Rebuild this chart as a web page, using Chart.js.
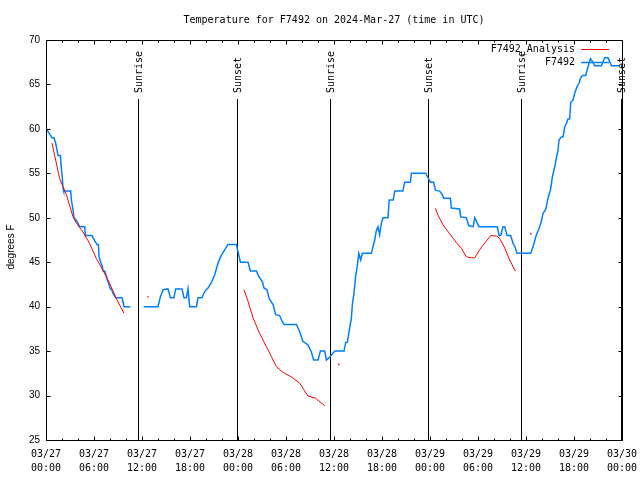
<!DOCTYPE html>
<html><head><meta charset="utf-8">
<script src="https://cdn.jsdelivr.net/npm/chart.js@4/dist/chart.umd.min.js"></script>
<style>html,body{margin:0;padding:0;background:#fff}#wrap{width:640px;height:480px;position:relative}</style>
</head><body><div id="wrap"><canvas id="c" width="640" height="480"></canvas></div>
<script>
const titleText = "Temperature for F7492 on 2024-Mar-27 (time in UTC)";
const yAxisLabel = "degrees F";
const xTickHours = [0, 6, 12, 18, 24, 30, 36, 42, 48, 54, 60, 66, 72];
const xTickDates = ["03/27","03/27","03/27","03/27","03/28","03/28","03/28","03/28","03/29","03/29","03/29","03/29","03/30"];
const xTickTimes = ["00:00","06:00","12:00","18:00","00:00","06:00","12:00","18:00","00:00","06:00","12:00","18:00","00:00"];
const yTickValues = [25, 30, 35, 40, 45, 50, 55, 60, 65, 70];
const sunriseHours = [11.5, 35.5, 59.4];
const sunsetHours = [23.87, 47.8, 71.84];
const seriesNames = ["F7492_Analysis", "F7492"];

// observed series F7492 (hours since 03/27 00:00 UTC, degrees F)
const obsHours = [0.05,0.75,1.0,1.21,1.5,1.8,1.92,2.05,2.13,2.21,3.09,3.17,3.38,3.5,3.8,4.21,4.84,4.92,5.75,6.09,6.38,6.55,6.63,6.84,7.05,7.13,7.34,7.55,7.67,7.88,8.05,8.17,8.38,8.71,9.5,9.63,9.75,10.55,
 11.4,
 12.21,14.0,14.3,14.63,15.25,15.55,16.0,16.2,17.0,17.25,17.55,17.75,17.96,18.8,19.0,19.5,19.84,20.25,20.67,21.09,21.5,21.92,22.34,22.75,23.8,24.0,24.3,25.25,25.55,26.3,26.6,27.05,27.25,27.63,27.9,28.4,28.7,29.2,29.55,29.75,31.3,31.7,32.1,32.75,33.17,33.46,34.0,34.3,34.84,35.05,35.46,36.1,37.25,37.46,37.67,37.88,38.17,38.3,38.5,38.7,38.9,39.1,39.34,39.55,40.67,40.88,41.09,41.3,41.5,41.7,41.92,42.13,42.75,42.9,43.4,43.6,44.6,44.84,45.55,45.67,47.46,47.75,48.05,48.46,48.67,49.2,49.55,49.7,50.55,50.67,51.7,51.84,52.55,52.84,53.4,53.59,53.8,54.13,56.42,56.63,56.84,57.13,57.34,57.63,58.09,58.38,58.59,58.88,60.6,61.0,61.3,61.63,61.92,62.13,62.46,62.75,63.05,63.3,63.59,63.8,64.0,64.13,64.42,64.63,64.84,65.05,65.25,65.46,65.59,65.88,66.09,66.38,66.63,66.8,67.05,67.46,67.63,67.75,68.05,68.3,68.59,69.42,69.71,69.84,70.25,70.46,70.67,71.7];
const obsTemps = [60,59,59,58.4,57,57,55.5,54.4,53.3,53,53,52,50.9,50,49.7,49,49,48,48,47.4,47,47,45.6,45,44.5,44,44,43.4,43,42.5,42,42,41.5,41,41,40.5,40,40,
 null,
 40,40,41.1,41.9,42,41,41,42,42,41,41,42,40,40,41,41,41.7,42.1,42.7,43.6,44.9,45.8,46.4,47,47,46.2,45,45,44,44,43.4,42.8,42.1,41.9,40.9,40.2,39.1,39,38.3,38,38,37.2,36.1,35.7,34.9,34,34,35,35,34,34.3,35,35,35.95,36,37.2,38.7,40.3,41.5,43.4,44.5,46,45.25,46,46,46.75,47.5,48.6,49,48.1,49.4,50,50,52,52,53,53,54,54,55,55,54.5,54,54,53.1,53,52.6,52.2,52.2,51.1,51,50.1,50,49.1,49,50,49.6,49,49,48,48,49,49,48,48,47.1,46.8,46,46,47.1,48.1,48.8,49.6,50.5,50.9,52.2,53.1,54.6,55.75,56.7,57.6,58.75,59.1,59.1,60.25,60.6,61.1,61.1,63,63.25,64,64.75,65.1,65.7,66,66,66.6,67,67.9,67.6,67.1,67.1,67.75,68,68,67.6,67.1,67.1];

// analysis series F7492_Analysis
const anaHours = [0.75,1.71,2.21,2.55,3.38,3.8,4.63,5.46,6.3,7.13,7.96,8.8,9.75,
 11.0, 12.75, 18.0,
 24.75,25.25,25.9,26.7,27.55,28.17,28.8,29.63,30.67,31.7,32.75,33.7,34.84,
 35.7, 36.6, 42.0,
 48.67,49.0,49.63,50.46,51.3,51.92,52.55,53.17,53.59,54.21,55.05,55.6,56.3,56.7,57.34,57.96,58.67,
 59.6, 60.6];
const anaTemps = [58.4,54.4,53.3,52.6,50.1,49.4,48.4,47.1,45.4,44.1,42.6,40.9,39.25,
 null, 41.1, null,
 41.9,40.6,38.7,37,35.5,34.4,33.25,32.6,32.1,31.4,29.95,29.7,28.86,
 null, 33.5, null,
 51.06,50.3,49.2,48.2,47.2,46.56,45.6,45.5,45.5,46.4,47.4,48.0,47.95,47.7,46.6,45.25,44.0,
 null, 48.2];

const RED = 'rgb(255,0,0)';
const BLUE = 'rgb(0,128,255)';
const MONO = '10px "DejaVu Sans Mono"';
const SANS = '10px "Liberation Sans"';

function isolated(arr, i) {
  if (arr[i] == null) return false;
  const p = i > 0 ? arr[i - 1] : null;
  const n = i < arr.length - 1 ? arr[i + 1] : null;
  return p == null && n == null;
}

const decor = {
  id: 'decor',
  beforeDatasetsDraw(chart) {
    const ctx = chart.ctx, a = chart.chartArea, xs = chart.scales.x;
    ctx.save();
    ctx.strokeStyle = '#000';
    ctx.lineWidth = 1;
    const marks = sunriseHours.map(h => [h, 'Sunrise']).concat(sunsetHours.map(h => [h, 'Sunset']));
    marks.forEach(([h, t]) => {
      const x = Math.round(xs.getPixelForValue(h)) + 0.5;
      ctx.beginPath(); ctx.moveTo(x, 99); ctx.lineTo(x, a.bottom); ctx.stroke();
      ctx.save();
      ctx.translate(x + 0.5, 93);
      ctx.rotate(-Math.PI / 2);
      ctx.font = MONO; ctx.fillStyle = '#000';
      ctx.textAlign = 'left'; ctx.textBaseline = 'middle';
      ctx.fillText(t, 0, 0);
      ctx.restore();
    });
    ctx.restore();
  },
  afterDraw(chart) {
    const ctx = chart.ctx, a = chart.chartArea, xs = chart.scales.x, ys = chart.scales.y;
    ctx.save();
    ctx.strokeStyle = '#000'; ctx.lineWidth = 1;
    const L = a.left + 0.5, R = a.right + 0.5, T = a.top + 0.5, B = a.bottom + 0.5;
    ctx.strokeRect(L, T, R - L, B - T);
    ctx.beginPath();
    for (let h = 2; h < 72; h += 2) {
      const x = Math.round(xs.getPixelForValue(h)) + 0.5;
      const len = (h % 6 === 0) ? 4 : 2;
      ctx.moveTo(x, B); ctx.lineTo(x, B - len);
      ctx.moveTo(x, T); ctx.lineTo(x, T + len);
    }
    yTickValues.forEach(v => {
      if (v === 25 || v === 70) return;
      const y = Math.round(ys.getPixelForValue(v)) + 0.5;
      ctx.moveTo(L, y); ctx.lineTo(L + 4, y);
      ctx.moveTo(R, y); ctx.lineTo(R - 4, y);
    });
    ctx.stroke();

    // title
    ctx.fillStyle = '#000';
    ctx.font = MONO; ctx.textAlign = 'center'; ctx.textBaseline = 'middle';
    ctx.fillText(titleText, (a.left + a.right) / 2, 20);

    // y axis label
    ctx.save();
    ctx.translate(11, 247);
    ctx.rotate(-Math.PI / 2);
    ctx.font = SANS; ctx.textAlign = 'center'; ctx.textBaseline = 'middle';
    ctx.fillText(yAxisLabel, 0, 0);
    ctx.restore();

    // legend
    const cols = [RED, BLUE];
    const rows = [49, 62];
    ctx.font = MONO; ctx.textAlign = 'right'; ctx.textBaseline = 'middle';
    seriesNames.forEach((n, i) => {
      ctx.fillStyle = '#000';
      ctx.fillText(n, 575, rows[i]);
      ctx.strokeStyle = cols[i];
      ctx.lineWidth = i === 0 ? 1 : 1.5;
      ctx.beginPath(); ctx.moveTo(581, rows[i] + 0.5); ctx.lineTo(609, rows[i] + 0.5); ctx.stroke();
    });
    ctx.restore();
  }
};

new Chart(document.getElementById('c').getContext('2d'), {
  type: 'line',
  data: {
    datasets: [
      {
        label: seriesNames[0],
        data: anaHours.map((h, i) => ({ x: h, y: anaTemps[i] })),
        borderColor: RED, backgroundColor: RED, borderWidth: 1,
        pointRadius: c => isolated(anaTemps, c.dataIndex) ? 1 : 0,
        pointStyle: 'rect', pointBorderWidth: 0,
        spanGaps: false, tension: 0, fill: false
      },
      {
        label: seriesNames[1],
        data: obsHours.map((h, i) => ({ x: h, y: obsTemps[i] })),
        borderColor: BLUE, backgroundColor: BLUE, borderWidth: 1.5,
        pointRadius: 0, spanGaps: false, tension: 0, fill: false
      }
    ]
  },
  options: {
    responsive: false, animation: false, devicePixelRatio: 1,
    layout: { padding: { left: 0, right: 18, top: 40, bottom: 0 } },
    plugins: { legend: { display: false }, title: { display: false }, tooltip: { enabled: false } },
    scales: {
      x: {
        type: 'linear', min: 0, max: 72,
        afterBuildTicks: s => { s.ticks = xTickHours.map(v => ({ value: v })); },
        ticks: {
          autoSkip: false, maxRotation: 0, minRotation: 0, padding: 7, color: '#000',
          font: { family: 'DejaVu Sans Mono', size: 10, lineHeight: 1.4 },
          callback: v => { const i = xTickHours.indexOf(v); return i < 0 ? '' : [xTickDates[i], xTickTimes[i]]; }
        },
        grid: { display: false, drawTicks: false },
        border: { display: false },
        afterFit: s => { s.height = 40; s.paddingLeft = 0; s.paddingRight = 0; }
      },
      y: {
        min: 25, max: 70,
        afterBuildTicks: s => { s.ticks = yTickValues.map(v => ({ value: v })); },
        ticks: { padding: 6, color: '#000', font: { family: 'Liberation Sans', size: 10 } },
        grid: { display: false, drawTicks: false },
        border: { display: false },
        afterFit: s => { s.width = 46; s.paddingTop = 0; s.paddingBottom = 0; }
      }
    }
  },
  plugins: [decor]
});
</script>
</body></html>
